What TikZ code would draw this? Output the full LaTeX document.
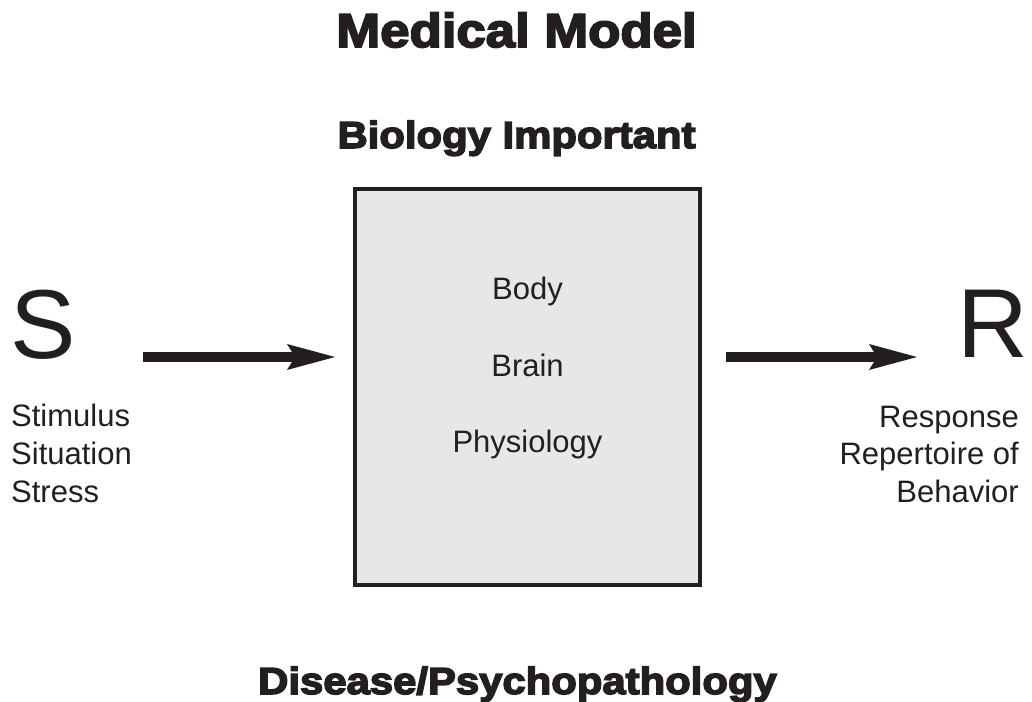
\documentclass[tikz,border=0pt]{standalone}
\usepackage{fontspec}
\setmainfont{Liberation Sans}
\newfontfamily\heavyfont[FakeStretch=1.11,BoldFeatures={FakeBold=4}]{Liberation Sans}
\usetikzlibrary{arrows.meta, positioning}
\definecolor{ink}{HTML}{231F20}
\definecolor{boxgray}{HTML}{E6E7E8}
\tikzstyle{title} = [inner sep=0pt, anchor=base, text=ink, font=\heavyfont\bfseries\fontsize{47.5}{50}\selectfont]
\tikzstyle{heading} = [inner sep=0pt, anchor=base, text=ink, font=\heavyfont\bfseries\fontsize{37.7}{40}\selectfont]
\tikzstyle{plain} = [inner sep=0pt, text=ink, font=\fontsize{31}{38}\selectfont]
\tikzstyle{letter} = [inner sep=0pt, anchor=base, text=ink, font=\fontsize{98}{100}\selectfont]
\tikzstyle{organism} = [rectangle, draw=ink, line width=4.5pt, fill=boxgray, minimum width=345pt, minimum height=396pt]
\tikzstyle{arrow} = [line width=10pt, draw=ink, -{Stealth[length=48pt, width=26pt, inset=8pt, line width=0pt]}]

\begin{document}
\begin{tikzpicture}[x=1pt, y=-1pt]
      \useasboundingbox (0,0) rectangle (1032,701);

      \node (medical) [title] at (516.5,47) {Medical Model};
      \node (biology) [heading] at (516.5,148) {Biology Important};
      \node (disease) [heading] at (517.5,694) {Disease/Psychopathology};

      \node (box) [organism] at (527.5,387) {};
      \node (body) [plain, anchor=base] at (527.5,299) {Body};
      \node (brain) [plain, anchor=base] at ([yshift=-77pt]body.base) {Brain};
      \node (physio) [plain, anchor=base] at ([yshift=-76pt]brain.base) {Physiology};

      \node (S) [letter] at (43,358) {S};
      \node (R) [letter] at (993,357) {R};

      \node (stimulus) [plain, anchor=base west] at (11,426) {Stimulus};
      \node (situation) [plain, anchor=base west] at ([yshift=-38pt]stimulus.base west) {Situation};
      \node (stress) [plain, anchor=base west] at ([yshift=-38pt]situation.base west) {Stress};

      \node (response) [plain, anchor=base east] at (1019,427) {Response};
      \node (repertoire) [plain, anchor=base east] at ([yshift=-37pt]response.base east) {Repertoire of};
      \node (behavior) [plain, anchor=base east] at ([yshift=-38pt]repertoire.base east) {Behavior};

      \coordinate (in_start) at (143,357);
      \coordinate (in_end) at (335,357);
      \coordinate (out_start) at (726,357);
      \coordinate (out_end) at (917,357);

      \draw [arrow] (in_start) -- (in_end);
      \draw [arrow] (out_start) -- (out_end);
    \end{tikzpicture}
\end{document}
